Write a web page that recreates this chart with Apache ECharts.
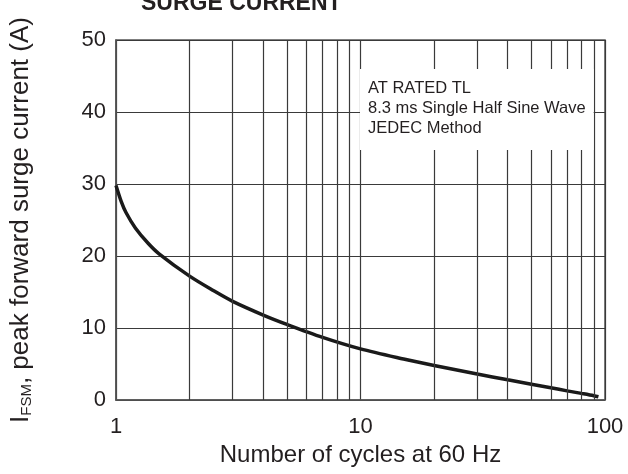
<!DOCTYPE html>
<html>
<head>
<meta charset="utf-8">
<script src="https://cdn.jsdelivr.net/npm/echarts@6/dist/echarts.min.js"></script>
<style>
  html, body { margin: 0; padding: 0; background: #fff; }
  #chart { width: 628px; height: 474px; }
</style>
</head>
<body>
<div id="chart"></div>
<script>
// surge current curve
const cycles = [1, 1.05, 1.1, 1.2, 1.35, 1.5, 2, 2.5, 3, 4, 5, 7, 10, 15, 20, 30, 40, 50, 60, 70, 80, 90, 94];
const current = [29.8, 27.6, 26.0, 23.9, 21.8, 20.3, 17.2, 15.2, 13.7, 11.8, 10.5, 8.7, 7.1, 5.7, 4.8, 3.6, 2.8, 2.2, 1.7, 1.27, 0.92, 0.6, 0.45];
// extra vertical grid lines of the log paper
const gridCycles = [2, 3, 4, 5, 6, 7, 8, 9, 20, 30, 40, 50, 60, 70, 80, 90];
const yTicks = [0, 10, 20, 30, 40, 50];

const ink = "#231f20";
const lineCol = "#3a3a3a";

const chart = echarts.init(document.getElementById("chart"));
chart.setOption({
  animation: false,
  title: [
    {
      text: "SURGE CURRENT",
      left: 141,
      top: -8,
      padding: 0,
      textStyle: { fontFamily: "Liberation Sans", fontSize: 23, fontWeight: "bold", color: ink, lineHeight: 23 },
    },
    {
      text: "AT RATED TL\n8.3 ms Single Half Sine Wave\nJEDEC Method",
      left: 360,
      top: 69,
      padding: [9, 8, 12, 8],
      backgroundColor: "#fff",
      textStyle: { fontFamily: "Liberation Sans", fontSize: 16.5, fontWeight: "normal", color: ink, lineHeight: 20 },
    },
  ],
  grid: {
    left: 113,
    right: 23,
    top: 40,
    bottom: 74,
    show: true,
    borderColor: "#555",
    borderWidth: 1.5,
    backgroundColor: "transparent",
  },
  xAxis: {
    type: "log",
    logBase: 10,
    min: 1,
    max: 100,
    name: "Number of cycles at 60 Hz",
    nameLocation: "middle",
    nameGap: 43,
    nameTextStyle: { fontFamily: "Liberation Sans", fontSize: 24, color: ink },
    axisLine: { show: true, lineStyle: { color: "#555", width: 1.5 } },
    axisTick: { show: false },
    axisLabel: { margin: 16, fontFamily: "Liberation Sans", fontSize: 22, color: ink },
    splitLine: { show: true, lineStyle: { color: lineCol, width: 1.2 } },
  },
  yAxis: {
    type: "value",
    min: yTicks[0],
    max: yTicks[yTicks.length - 1],
    interval: 10,
    name: "{a|I}{b|FSM}{a|, peak forward surge current (A)}",
    nameLocation: "middle",
    nameRotate: 90,
    nameGap: 82,
    nameTextStyle: {
      rich: {
        a: { fontFamily: "Liberation Sans", fontSize: 26, lineHeight: 26, color: ink },
        b: { fontFamily: "Liberation Sans", fontSize: 15, lineHeight: 8, verticalAlign: "bottom", color: ink },
      },
    },
    axisLine: { show: true, lineStyle: { color: "#555", width: 1.5 } },
    axisTick: { show: false },
    axisLabel: { margin: 10, fontFamily: "Liberation Sans", fontSize: 22, color: ink },
    splitLine: { show: true, lineStyle: { color: lineCol, width: 1.2 } },
  },
  series: [
    {
      type: "line",
      z: 1,
      data: [],
      silent: true,
      markLine: {
        silent: true,
        symbol: "none",
        label: { show: false },
        lineStyle: { color: lineCol, width: 1.2, type: "solid" },
        data: gridCycles.map((c) => ({ xAxis: c })),
      },
    },
    {
      type: "line",
      z: 3,
      data: cycles.map((c, i) => [c, current[i]]),
      smooth: 0.3,
      showSymbol: false,
      lineStyle: { color: "#1a1a1a", width: 3.5 },
    },
  ],
});
</script>
</body>
</html>
